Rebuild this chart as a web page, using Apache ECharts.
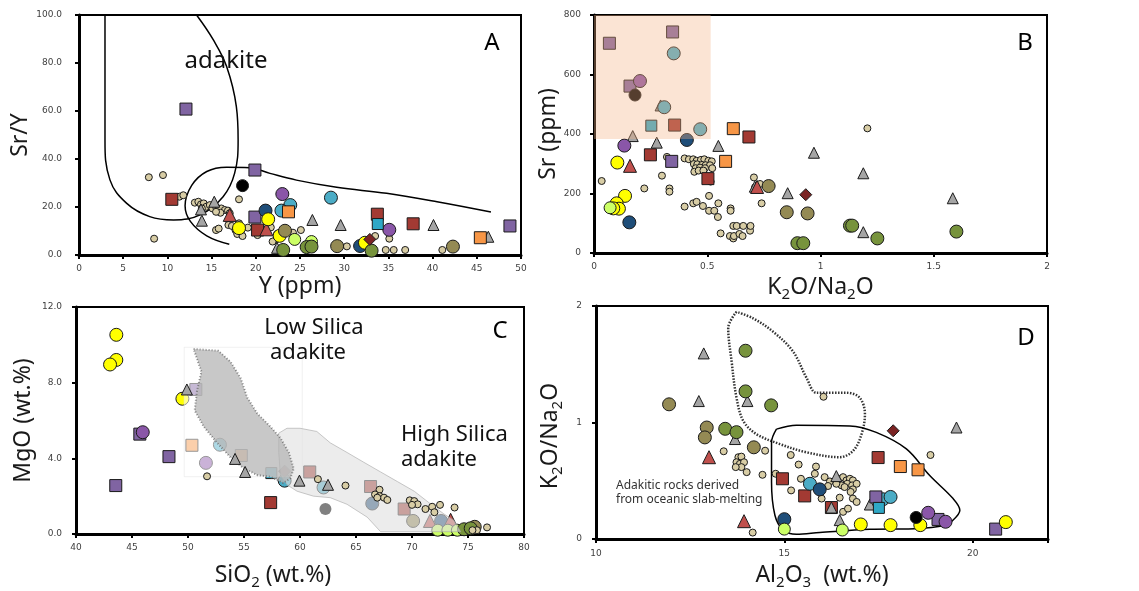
<!DOCTYPE html>
<html><head><meta charset="utf-8">
<script src="https://cdn.jsdelivr.net/npm/echarts@6/dist/echarts.min.js"></script>
<style>html,body{margin:0;padding:0;background:#fff}#c{width:1139px;height:591px}</style>
</head><body><div id="c"></div>
<script>
// ---------- Panel A : Sr/Y vs Y ----------
const A_tan = [[7.9,32.4],[9.5,33.3],[11.35,24.3],[11.8,24.9],[8.5,6.8],
 [13.1,21.8],[13.5,22.2],[13.8,21.1],[14.1,21.5],[14.4,20.1],[14.8,20.8],[15.1,19.4],[15.5,20.1],[15.7,18.75],[16.1,19.4],[16.5,18.75],[16.85,18.5],[17.05,17.4],[16.0,17.6],[15.5,18.0],[13.9,19.4],
 [18.1,23.2],[16.9,12.5],[17.3,12.1],[17.7,10.4],[18.1,13.2],[18.1,11.1],[18.3,9.7],[17.9,8.75],[18.5,7.9],[19.1,11.4],[15.5,10.4],[15.8,11.0],[20.2,8.3],
 [21.7,11.5],[22.4,8.75],[22.3,6.5],[21.9,5.6],[24.2,9.3],[25.1,10.4],
 [30.3,3.6],[35.1,6.8],[41.1,2.1],[36.9,2.1],[35.6,2.1],[34.7,2.1],[33.5,7.9]];
const A_greyTri = [[15.3,22.2],[13.8,19.0],[13.9,14.3],[22.4,3.0],[26.4,14.6],[29.6,12.5],[40.1,12.5],[46.3,7.6]];
const A_redTri = [[17.05,16.7],[21.2,10.7]];
const A_redSq = [[10.5,23.2],[20.2,10.4],[33.75,17.0],[37.8,13.0]];
const A_purpleSq = [[12.1,60.8],[19.9,35.4],[19.9,15.8],[48.75,12.1]];
const A_black = [[18.5,28.9]];
const A_yellow = [[18.1,11.2],[21.4,14.9],[22.7,8.0],[32.35,5.1]];
const A_darkBlue = [[21.1,18.5],[31.8,3.75]];
const A_purpleC = [[23.0,25.4],[35.1,10.5]];
const A_teal = [[23.9,20.8],[22.9,18.5],[28.5,23.9]];
const A_orangeSq = [[23.7,18.0],[45.4,7.2]];
const A_tealSq = [[33.8,12.9]];
const A_olive = [[23.3,10.1],[29.2,3.7],[42.3,3.5]];
const A_lgreen = [[24.4,6.5],[26.3,5.6]];
const A_green = [[23.1,2.1],[25.75,3.3],[26.3,3.5],[33.1,1.8]];
const A_diamond = [[32.9,6.5]];
const A_adakiteField = [[2.94,100],[2.94,47.9],[3.5,31.3],[5.4,21.5],[8.0,16.0],[10.7,14.6],[13.7,16.7],[16.3,24.3],[17.6,34],[18.0,47.9],[17.8,61.8],[16.7,78.5],[15.2,89.6],[13.3,100]];
const A_lowerField = [[17.0,4.5],[14.45,8.0],[12.6,14.0],[12.0,20.5],[12.75,29.0],[14.45,34.8],[16.7,36.6],[19.3,36.4],[21.6,34.0],[24.6,31.2],[29.15,28.2],[34.8,25.7],[40.5,22.2],[46.6,17.9]];

// ---------- Panel B : Sr vs K2O/Na2O ----------
const B_tan = [[0.034,242],[0.222,217],[0.243,323],[0.245,329],[0.30,260],[0.322,323],[0.333,217],[0.333,206],[0.40,156],[0.438,167],[0.453,172],[0.481,158],[0.508,192],[0.508,142],[0.531,142],[0.547,121],[0.549,167],[0.559,66],[0.603,150],[0.603,142],[0.60,57],[0.615,49],[0.618,57],[0.615,91],[0.63,91],[0.642,64],[0.656,57],[0.659,91],[0.689,75],[0.691,91],[0.706,254],[0.733,232],[0.711,221],[0.74,167],[0.515,240],
 [0.40,318],[0.419,315],[0.438,315],[0.453,310],[0.472,313],[0.487,315],[0.505,310],[0.52,308],[0.441,299],[0.456,298],[0.477,296],[0.493,295],[0.512,295],[0.449,285],[0.468,287],[0.49,285],[0.443,273],[0.462,277],[0.483,277],[0.522,285],[1.207,419]];
const B_greyTri = [[0.294,496],[0.171,393],[0.277,371],[0.549,360],[0.971,337],[0.855,201],[0.71,223],[1.189,268],[1.584,184],[1.189,70]];
const B_redTri = [[0.159,293],[0.72,222]];
const B_purpleSq = [[0.068,705],[0.347,743],[0.159,561],[0.343,308]];
const B_teal = [[0.352,671],[0.31,490],[0.469,416]];
const B_purpleC = [[0.203,578],[0.134,361]];
const B_black = [[0.181,531]];
const B_tealSq = [[0.253,428]];
const B_redSq = [[0.356,430],[0.684,390],[0.249,330],[0.503,250]];
const B_orangeSq = [[0.615,418],[0.581,308]];
const B_darkBlue = [[0.41,380],[0.156,103]];
const B_yellow = [[0.103,304],[0.137,192],[0.1,167],[0.11,149],[0.085,150]];
const B_lgreen = [[0.071,152]];
const B_olive = [[0.771,225],[0.851,137],[0.943,133]];
const B_green = [[0.898,33],[0.924,33],[1.13,92],[1.14,92],[1.251,49],[1.6,72]];
const B_diamond = [[0.935,196]];
const B_adakiteBox = [[0,383],[0.515,383],[0.515,800],[0,800]];

// ---------- Panel C : MgO vs SiO2 ----------
const C_yellow = [[43.6,10.53],[43.6,9.2],[43.04,8.96],[49.5,7.15]];
const C_purpleSq = [[45.7,5.28],[48.3,4.09],[43.55,2.56],[50.7,7.64]];
const C_purpleC = [[45.96,5.38],[51.6,3.76]];
const C_greyTri = [[49.9,7.64],[54.2,3.97],[55.1,3.28],[59.95,2.82],[62.5,2.6]];
const C_orangeSq = [[50.35,4.69],[54.76,4.15]];
const C_teal = [[52.85,4.72],[58.63,2.82],[62.1,2.46]];
const C_tealSq = [[57.44,3.22]];
const C_redSq = [[57.38,1.66],[60.87,3.28],[66.3,2.51],[69.3,1.32]];
const C_diamond = [[58.63,3.32]];
const C_greyC = [[62.27,1.32]];
const C_darkBlue = [[66.45,1.61],[72.6,0.69]];
const C_olive = [[70.1,0.69],[75.6,0.38]];
const C_redTri = [[71.6,0.69],[73.45,0.75]];
const C_lgreen = [[72.3,0.2],[73.2,0.2],[74.05,0.2]];
const C_green = [[74.65,0.25],[75.24,0.3]];
const C_tan = [[51.7,3.05],[61.6,2.9],[64.06,2.56],[67.1,2.34],[66.7,2.09],[67.1,2.0],[67.5,1.92],[67.8,1.8],[66.9,1.92],[69.8,1.78],[70.2,1.74],[70.5,1.57],[70.0,1.54],[71.2,1.32],[71.8,1.44],[72.5,1.54],[72.0,1.15],[73.8,1.4],[75.8,0.2],[75.4,0.2],[76.7,0.35]];
const C_lowSilica = [[50.5,9.78],[52.7,9.69],[53.8,9.1],[54.7,8.24],[55.3,7.2],[56.2,6.36],[57.35,5.68],[58.25,5.08],[59.0,4.31],[59.44,3.46],[59.14,2.94],[58.5,2.69],[57.35,3.03],[56.2,3.11],[55.0,3.46],[53.8,4.05],[52.6,4.82],[51.4,5.68],[50.6,6.53],[50.8,7.56],[51.2,8.58]];
const C_highSilica = [[58.1,5.33],[58.84,5.59],[60.0,5.59],[61.5,5.42],[62.7,4.82],[64.2,4.31],[65.7,3.79],[67.2,3.28],[68.7,2.77],[70.2,2.26],[71.7,1.57],[72.85,1.06],[73.75,0.72],[74.35,0.12],[67.2,0.12],[66.0,0.89],[64.2,1.57],[62.7,1.92],[61.2,2.0],[59.74,2.26],[58.84,2.6],[58.25,3.11],[58.1,4.31]];
const C_insetBox = [[49.66,9.87],[60.2,9.87],[60.2,3.03],[49.66,3.03]];

// ---------- Panel D : K2O/Na2O vs Al2O3 ----------
const D_tan = [[13.39,0.753],[13.78,0.702],[13.86,0.707],[13.73,0.659],[13.82,0.645],[13.93,0.659],[13.86,0.617],[14.0,0.574],[13.71,0.617],[14.42,0.551],[14.49,0.758],[14.16,0.055],[16.04,1.221],[14.77,0.56],[15.17,0.721],[15.38,0.639],[15.44,0.517],[15.18,0.417],[15.84,0.622],[15.81,0.56],[16.07,0.531],[15.99,0.347],[16.47,0.355],[16.56,0.233],[16.69,0.261],[16.82,0.347],[16.92,0.318],[17.4,0.347],[18.88,0.721],[16.21,0.494],[16.43,0.517],[16.56,0.531],[16.65,0.503],[16.74,0.517],[16.82,0.503],[16.67,0.474],[16.52,0.46],[16.38,0.474],[16.8,0.46],[16.92,0.474],[16.82,0.426],[16.76,0.404],[16.6,0.446],[16.16,0.455]];
const D_greyTri = [[12.86,1.593],[12.73,1.184],[14.02,1.184],[13.69,0.858],[16.38,0.54],[16.47,0.162],[17.27,0.296],[19.57,0.957],[16.25,0.27]];
const D_green = [[13.97,1.616],[13.97,1.267],[14.65,1.147],[13.43,0.946],[13.73,0.917]];
const D_olive = [[11.94,1.156],[12.94,0.957],[12.89,0.872],[14.19,0.787]];
const D_redTri = [[13.0,0.702],[13.93,0.153]];
const D_redSq = [[14.95,0.517],[15.54,0.37],[17.49,0.699],[16.25,0.27]];
const D_teal = [[15.68,0.474],[17.62,0.341],[17.82,0.361]];
const D_darkBlue = [[15.94,0.426],[15.0,0.17]];
const D_lgreen = [[15.0,0.085],[16.54,0.077]];
const D_purpleSq = [[17.43,0.361],[19.08,0.168],[20.61,0.085]];
const D_tealSq = [[17.51,0.267]];
const D_orangeSq = [[18.08,0.622],[18.55,0.594]];
const D_diamond = [[17.89,0.929]];
const D_yellow = [[17.03,0.125],[17.82,0.119],[18.61,0.119],[20.88,0.145]];
const D_black = [[18.5,0.185]];
const D_purpleC = [[18.82,0.225],[19.28,0.148]];
const D_dottedField = [[13.73,1.95],[13.51,1.81],[13.6,1.525],[13.73,1.213],[13.91,1.014],[14.26,0.9],[14.88,0.815],[15.59,0.744],[16.47,0.702],[16.83,0.758],[17.05,0.9],[17.14,1.071],[17.0,1.213],[16.65,1.255],[16.29,1.255],[15.85,1.255],[15.59,1.383],[15.23,1.61],[14.7,1.78],[14.17,1.894],[13.73,1.95]];
const D_slabField = [[14.79,0.943],[15.32,0.977],[16.74,0.971],[17.44,0.915],[18.24,0.773],[18.86,0.545],[19.48,0.347],[19.66,0.247],[19.39,0.134],[19.3,0.119],[18.59,0.091],[17.27,0.083],[15.94,0.055],[15.32,0.04],[14.97,0.077],[14.75,0.204],[14.66,0.489],[14.66,0.83],[14.79,0.943]];

// ---------- styles ----------
const STY = {
  tan:{symbol:'circle',size:7,color:'#d8cda5'},
  greyTri:{symbol:'triangle',size:11,color:'#a5a5a5'},
  redTri:{symbol:'triangle',size:13,color:'#c0504d'},
  redSq:{symbol:'rect',size:12,color:'#a33a33'},
  purpleSq:{symbol:'rect',size:12,color:'#8064a2'},
  orangeSq:{symbol:'rect',size:12,color:'#f79646'},
  tealSq:{symbol:'rect',size:11,color:'#2fa8c6'},
  yellow:{symbol:'circle',size:13,color:'#ffff00'},
  purpleC:{symbol:'circle',size:13,color:'#8a56a8'},
  teal:{symbol:'circle',size:13,color:'#4bacc6'},
  darkBlue:{symbol:'circle',size:13,color:'#1f4e79'},
  black:{symbol:'circle',size:12,color:'#000000'},
  olive:{symbol:'circle',size:13,color:'#948a54'},
  green:{symbol:'circle',size:13,color:'#77933c'},
  lgreen:{symbol:'circle',size:12,color:'#ccff66'},
  diamond:{symbol:'diamond',size:12,color:'#7b2424'},
  greyC:{symbol:'circle',size:12,color:'#808080',noBorder:true}
};
function pts(panel, key, data, z){
  const s = STY[key];
  return {type:'scatter', xAxisIndex:panel, yAxisIndex:panel, data:data, symbol:s.symbol, symbolSize:s.size,
    itemStyle:{color:s.color, borderColor:s.noBorder?'rgba(0,0,0,0)':'#1a1a1a', borderWidth:s.noBorder?0:1, opacity:1},
    z:z||3, silent:true, animation:false};
}
function poly(panel, data, style, z){
  return {type:'custom', coordinateSystem:'cartesian2d', xAxisIndex:panel, yAxisIndex:panel, data:data, z:z, silent:true, animation:false, clip:false,
    renderItem:function(params, api){
      if(params.dataIndex!==0) return null;
      return {type:'polygon', shape:{points:data.map(p=>api.coord(p))}, style:style};
    }};
}
function curve(panel, data, ls, smooth, z){
  return {type:'line', xAxisIndex:panel, yAxisIndex:panel, data:data, smooth:smooth, symbol:'none', lineStyle:ls, z:z||2, silent:true, animation:false};
}

const series = [];
// A
series.push(curve(0, A_adakiteField, {color:'#000',width:1.5}, 0.4));
series.push(curve(0, A_lowerField, {color:'#000',width:1.5}, 0.4));
[['tan',A_tan],['greyTri',A_greyTri],['redSq',A_redSq],['redTri',A_redTri],['purpleSq',A_purpleSq],['black',A_black],['darkBlue',A_darkBlue],['yellow',A_yellow],['purpleC',A_purpleC],['teal',A_teal],['orangeSq',A_orangeSq],['tealSq',A_tealSq],['olive',A_olive],['lgreen',A_lgreen],['green',A_green],['diamond',A_diamond]].forEach(d=>series.push(pts(0,d[0],d[1])));
// B
[['tan',B_tan],['greyTri',B_greyTri],['redTri',B_redTri],['purpleSq',B_purpleSq],['teal',B_teal],['purpleC',B_purpleC],['black',B_black],['tealSq',B_tealSq],['redSq',B_redSq],['orangeSq',B_orangeSq],['darkBlue',B_darkBlue],['yellow',B_yellow],['lgreen',B_lgreen],['olive',B_olive],['green',B_green],['diamond',B_diamond]].forEach(d=>series.push(pts(1,d[0],d[1])));
series.push(poly(1, B_adakiteBox, {fill:'#f4b183', opacity:0.35}, 10));
// C
[['yellow',C_yellow],['purpleSq',C_purpleSq],['purpleC',C_purpleC],['orangeSq',C_orangeSq],['teal',C_teal],['tealSq',C_tealSq],['redSq',C_redSq],['diamond',C_diamond],['greyC',C_greyC],['darkBlue',C_darkBlue],['olive',C_olive],['redTri',C_redTri],['lgreen',C_lgreen],['green',C_green]].forEach(d=>series.push(pts(2,d[0],d[1],3)));
series.push(poly(2, C_insetBox, {fill:'#ffffff', opacity:0.55, stroke:'#e4e4e4', lineWidth:1}, 4));
series.push(poly(2, C_highSilica, {fill:'#e0e0e0', opacity:0.62, stroke:'#a8a8a8', lineWidth:1}, 5));
series.push(poly(2, C_lowSilica, {fill:'#b5b5b5', opacity:0.75, stroke:'#666', lineWidth:2, lineDash:[1,2]}, 6));
series.push(pts(2,'greyTri',C_greyTri,7));
series.push(pts(2,'tan',C_tan,7));
// D
series.push(curve(3, D_dottedField, {color:'#333',width:2.5,type:[1.5,1.5]}, 0.35));
series.push(curve(3, D_slabField, {color:'#000',width:1.5}, 0.35));
[['tan',D_tan],['redSq',D_redSq],['greyTri',D_greyTri],['green',D_green],['olive',D_olive],['redTri',D_redTri],['teal',D_teal],['darkBlue',D_darkBlue],['lgreen',D_lgreen],['purpleSq',D_purpleSq],['tealSq',D_tealSq],['orangeSq',D_orangeSq],['diamond',D_diamond],['yellow',D_yellow],['black',D_black],['purpleC',D_purpleC]].forEach(d=>series.push(pts(3,d[0],d[1])));

const labelStyle = {fontFamily:'DejaVu Sans', fontSize:9, color:'#404040'};
const nameStyle = {fontFamily:'Noto Sans', fontSize:23, color:'#1a1a1a',
  rich:{sub:{fontFamily:'Noto Sans', fontSize:15, color:'#1a1a1a', verticalAlign:'bottom', lineHeight:30}}};
function axis(grid, min, max, interval, name, gap, margin, fmt, pad){
  return {type:'value', gridIndex:grid, min:min, max:max, interval:interval, name:name, nameLocation:'middle', nameGap:gap,
    nameTextStyle:Object.assign({}, nameStyle, pad?{padding:pad}:{}),
    axisLine:{show:true, onZero:false, lineStyle:{color:'#000', width:3}},
    axisTick:{show:true, length:4, lineStyle:{color:'#000', width:2}},
    axisLabel:Object.assign({margin:margin, formatter:fmt}, labelStyle), splitLine:{show:false}};
}
const f1 = v => v.toFixed(1);
const fPlain = v => String(v);

const gridBase = {show:true, borderColor:'#000', borderWidth:2, backgroundColor:'transparent', containLabel:false};
const option = {
  animation:false,
  grid:[
    Object.assign({left:79, top:15, width:442, height:240}, gridBase),
    Object.assign({left:594, top:15, width:453, height:238}, gridBase),
    Object.assign({left:76, top:307, width:448, height:234}, gridBase),
    Object.assign({left:596, top:306, width:452, height:235}, gridBase)
  ],
  xAxis:[
    axis(0, 0, 50, 5, 'Y (ppm)', 20, 9, fPlain),
    axis(1, 0, 2, 0.5, 'K{sub|2}O/Na{sub|2}O', 19, 9, fPlain),
    axis(2, 40, 80, 5, 'SiO{sub|2} (wt.%)', 26, 9, fPlain, [0,54,0,0]),
    axis(3, 10, 22, 5, 'Al{sub|2}O{sub|3}  (wt.%)', 21, 10, v => (v===22?'':String(v)))
  ],
  yAxis:[
    axis(0, 0, 100, 20, 'Sr/Y', 46, 17, f1),
    axis(1, 0, 800, 200, 'Sr (ppm)', 34, 13, fPlain),
    axis(2, 0, 12, 4, 'MgO (wt.%)', 41, 14, f1),
    axis(3, 0, 2, 1, 'K{sub|2}O/Na{sub|2}O', 31, 14, fPlain, [0,27,0,0])
  ],
  graphic:{elements:[
    {type:'text', z:100, x:492, y:43, style:{text:'A', fontFamily:'Noto Sans', fontSize:24, fill:'#000', align:'center', verticalAlign:'middle'}},
    {type:'text', z:100, x:1025, y:43, style:{text:'B', fontFamily:'Noto Sans', fontSize:24, fill:'#000', align:'center', verticalAlign:'middle'}},
    {type:'text', z:100, x:500, y:331, style:{text:'C', fontFamily:'Noto Sans', fontSize:24, fill:'#000', align:'center', verticalAlign:'middle'}},
    {type:'text', z:100, x:1026, y:338, style:{text:'D', fontFamily:'Noto Sans', fontSize:24, fill:'#000', align:'center', verticalAlign:'middle'}},
    {type:'text', z:100, x:226, y:61, style:{text:'adakite', fontFamily:'Noto Sans', fontSize:24, fill:'#111', align:'center', verticalAlign:'middle'}},
    {type:'text', z:100, x:314, y:328, style:{text:'Low Silica', fontFamily:'Noto Sans', fontSize:22, fill:'#111', align:'center', verticalAlign:'middle'}},
    {type:'text', z:100, x:308, y:353, style:{text:'adakite', fontFamily:'Noto Sans', fontSize:22, fill:'#111', align:'center', verticalAlign:'middle'}},
    {type:'text', z:100, x:401, y:435, style:{text:'High Silica', fontFamily:'Noto Sans', fontSize:22, fill:'#111', align:'left', verticalAlign:'middle'}},
    {type:'text', z:100, x:401, y:460, style:{text:'adakite', fontFamily:'Noto Sans', fontSize:22, fill:'#111', align:'left', verticalAlign:'middle'}},
    {type:'text', z:100, x:616, y:486, style:{text:'Adakitic rocks derived', fontFamily:'Noto Sans', fontSize:12, fill:'#333', align:'left', verticalAlign:'middle'}},
    {type:'text', z:100, x:616, y:500, style:{text:'from oceanic slab-melting', fontFamily:'Noto Sans', fontSize:12, fill:'#333', align:'left', verticalAlign:'middle'}}
  ]},
  series:series
};
const chart = echarts.init(document.getElementById('c'), null, {renderer:'canvas'});
chart.setOption(option);
</script></body></html>
